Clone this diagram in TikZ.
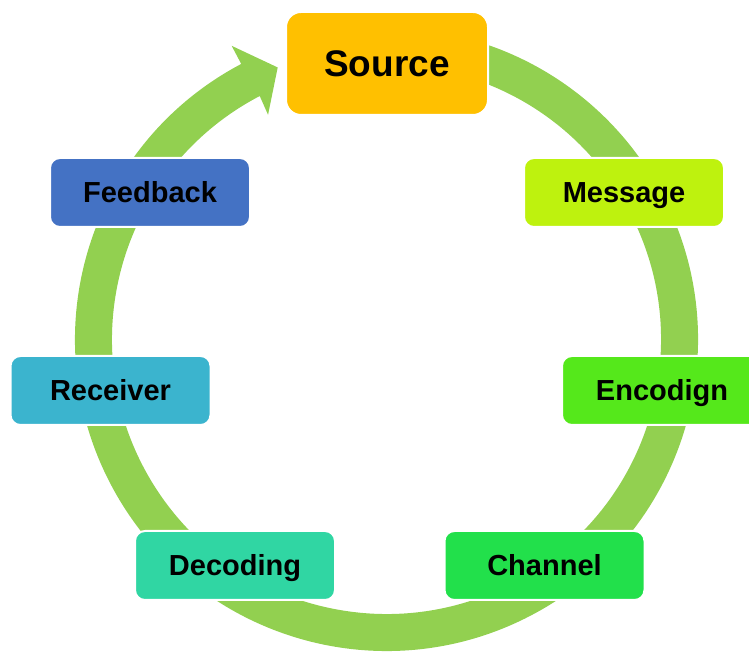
\documentclass[tikz,border=0pt]{standalone}
\usepackage{fontspec}
\setmainfont{Liberation Sans}
\definecolor{ringgreen}{HTML}{92D050}
\definecolor{csource}{HTML}{FFC000}
\definecolor{cfeed}{HTML}{4472C4}
\definecolor{cmsg}{HTML}{BEF20E}
\definecolor{crecv}{HTML}{3BB4CE}
\definecolor{cenc}{HTML}{55E81B}
\definecolor{cdec}{HTML}{30D6A3}
\definecolor{cchan}{HTML}{22E04B}
\tikzset{
  stagebox/.style={draw=white, line width=2pt, rounded corners=10pt,
    minimum width=200pt, minimum height=69pt, outer sep=0pt, inner sep=0pt,
    font=\fontsize{29}{31}\selectfont\bfseries, text=black,
    text height=20.8pt, text depth=0pt},
  sourcebox/.style={stagebox, rounded corners=15pt, minimum width=202pt,
    minimum height=103pt, font=\fontsize{37}{40}\selectfont\bfseries,
    text height=26.5pt}
}
\begin{document}
\begin{tikzpicture}[x=1pt,y=1pt]
\clip (0,0) rectangle (749,652);
% ring with arrow head
\begin{scope}[shift={(386.5,312.5)}]
\fill[ringgreen] (80:274.5) arc[start angle=80, end angle=-242.5, radius=274.5]
  -- (117.8:254) -- (111.8:293) -- (117.8:332) -- (117.8:311.5)
  arc[start angle=-242.2, end angle=80, radius=311.5] -- cycle;
\end{scope}
\node[sourcebox, fill=csource] (source) at (387,588.5) {Source};
\node[stagebox, fill=cmsg] (message) at (624,459.5) {Message};
\node[stagebox, fill=cenc] (encoding) at (662,261.5) {Encodign};
\node[stagebox, fill=cchan] (channel) at (544.5,86.5) {Channel};
\node[stagebox, fill=cdec] (decoding) at (235,86.5) {Decoding};
\node[stagebox, fill=crecv] (receiver) at (110.5,261.5) {Receiver};
\node[stagebox, fill=cfeed] (feedback) at (150,459.5) {Feedback};
\end{tikzpicture}
\end{document}
